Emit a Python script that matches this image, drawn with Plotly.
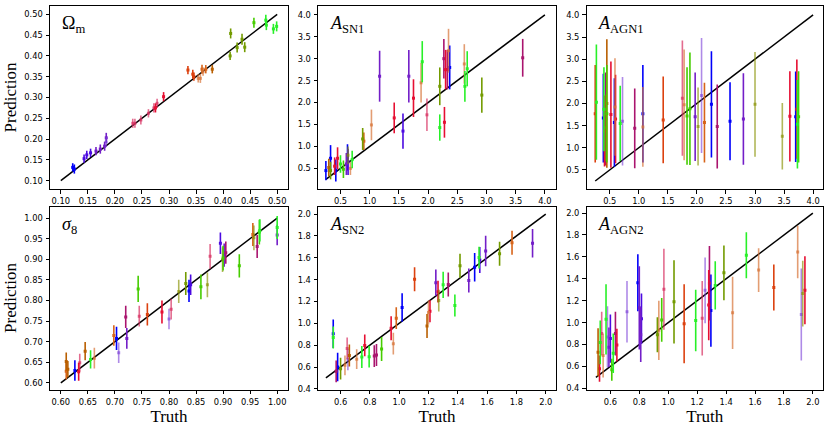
import plotly.graph_objects as go

# ---------------- data ----------------
om_truth = [0.122,0.125,0.143,0.148,0.155,0.165,0.173,0.181,0.184,0.184,0.233,0.237,0.248,0.262,0.272,0.275,0.278,0.290,0.335,0.344,0.346,0.354,0.358,0.361,0.363,0.368,0.380,0.413,0.414,0.426,0.435,0.440,0.457,0.479,0.480,0.493,0.499]
om_pred = [0.132,0.128,0.153,0.162,0.167,0.171,0.176,0.183,0.203,0.193,0.238,0.238,0.246,0.262,0.275,0.275,0.286,0.302,0.366,0.356,0.350,0.346,0.346,0.368,0.362,0.368,0.368,0.400,0.454,0.420,0.440,0.421,0.480,0.486,0.474,0.465,0.471]
om_err = [0.010,0.011,0.010,0.010,0.010,0.010,0.011,0.011,0.012,0.012,0.011,0.011,0.011,0.010,0.011,0.011,0.011,0.011,0.010,0.011,0.010,0.010,0.011,0.011,0.010,0.010,0.010,0.010,0.012,0.012,0.013,0.012,0.012,0.013,0.012,0.012,0.012]
om_col = ['B','B','BP','BP','BP','P','P','P','P','LP','PK','PK','PK','PK','PK','R','PK','R','RO','RO','RO','LO','LO','O','LO','O','BR','OL','OL','OL','OL','OL','G','LG','LG','LG','LG']

sn1_truth = [0.25,0.30,0.33,0.33,0.40,0.42,0.45,0.50,0.55,0.60,0.62,0.63,0.63,0.67,0.70,0.88,0.90,1.03,1.17,1.42,1.57,1.67,1.75,1.88,1.90,1.98,2.20,2.20,2.28,2.27,2.30,2.33,2.35,2.37,2.62,2.63,2.67,2.92,3.62]
sn1_pred = [0.45,0.52,0.73,0.45,0.55,0.45,0.73,0.60,0.48,0.60,0.75,0.65,0.80,0.50,0.70,1.17,1.12,1.49,2.60,1.65,1.35,2.60,2.10,2.45,2.93,1.72,1.43,2.37,1.55,3.00,2.75,2.75,3.18,2.80,2.88,2.37,2.77,2.17,3.02]
sn1_err = [0.22,0.20,0.30,0.20,0.20,0.25,0.25,0.20,0.20,0.25,0.30,0.30,0.20,0.15,0.20,0.25,0.20,0.35,0.58,0.35,0.40,0.60,0.43,0.45,0.47,0.37,0.30,0.43,0.35,0.45,0.45,0.45,0.50,0.50,0.45,0.35,0.40,0.40,0.43]
sn1_col = ['B','BR','B','OL','R','B','R','LG','G','P','B','BP','LOL','LO','LG','OL','O','LO','P','R','BP','P','R','LO','LG','PK','LG','OL','R','C','R','C','LO','B','LO','LG','LG','OL','C']

agn1_truth = [0.25,0.27,0.39,0.40,0.41,0.43,0.43,0.45,0.45,0.52,0.58,0.59,0.60,0.68,0.72,0.93,1.07,1.07,1.42,1.75,1.78,1.83,1.88,1.97,2.02,2.08,2.13,2.25,2.35,2.57,2.80,3.00,3.47,3.60,3.70,3.72,3.73,3.75]
agn1_pred = [1.77,2.03,1.67,1.87,1.38,1.45,1.65,2.00,1.77,1.75,1.57,1.92,1.65,1.55,1.60,1.44,1.77,1.47,1.63,2.12,1.97,1.72,1.88,1.70,1.48,2.18,1.57,1.98,1.48,1.60,1.65,1.98,1.26,1.71,1.70,1.87,1.53,1.70]
agn1_err = [1.10,1.30,1.00,0.95,0.80,0.75,1.05,1.45,1.10,1.20,1.00,1.10,1.00,0.85,1.00,0.90,1.10,0.90,0.98,1.30,1.25,1.10,1.27,1.00,0.88,1.30,0.90,1.20,0.95,0.88,1.03,1.18,0.75,1.02,1.02,1.12,1.00,1.03]
agn1_col = ['RO','LG','B','LG','R','LOL','C','BR','G','R','B','LO','R','LG','LP','C','B','LO','RO','PK','LO','G','G','P','LOL','LP','O','B','C','B','P','LOL','LOL','R','B','R','LG','G']

s8_truth = [0.610,0.610,0.613,0.626,0.633,0.635,0.645,0.655,0.662,0.698,0.703,0.707,0.722,0.720,0.743,0.745,0.760,0.787,0.800,0.804,0.818,0.831,0.837,0.840,0.859,0.871,0.876,0.895,0.899,0.900,0.902,0.905,0.930,0.955,0.957,0.963,0.967,0.968,1.000,1.000]
s8_pred = [0.652,0.628,0.633,0.630,0.627,0.649,0.677,0.657,0.660,0.715,0.708,0.673,0.708,0.760,0.828,0.762,0.766,0.772,0.755,0.779,0.822,0.841,0.823,0.838,0.833,0.838,0.907,0.939,0.899,0.903,0.910,0.916,0.884,0.960,0.952,0.931,0.966,0.970,0.977,0.959]
s8_err = [0.022,0.020,0.020,0.025,0.022,0.022,0.022,0.022,0.025,0.025,0.028,0.025,0.025,0.027,0.032,0.025,0.027,0.028,0.025,0.025,0.028,0.028,0.027,0.025,0.030,0.030,0.030,0.026,0.030,0.030,0.028,0.027,0.028,0.028,0.030,0.028,0.030,0.027,0.028,0.025]
s8_col = ['BR','O','BR','B','R','PK','BR','LG','LO','O','B','LP','P','C','G','PK','RO','R','LP','PK','LOL','OL','B','BP','G','LOL','PK','BP','LOL','G','P','C','G','O','LOL','C','G','LG','LG','P']

sn2_truth = [0.55,0.55,0.57,0.58,0.60,0.63,0.645,0.65,0.66,0.71,0.745,0.765,0.795,0.83,0.845,0.88,0.945,0.96,0.98,1.02,1.105,1.19,1.20,1.21,1.25,1.265,1.27,1.30,1.335,1.38,1.415,1.475,1.515,1.545,1.55,1.59,1.685,1.77,1.91]
sn2_pred = [0.905,0.870,0.560,0.600,0.585,0.615,0.770,0.670,0.705,0.672,0.692,0.798,0.695,0.700,0.710,0.765,0.955,0.814,1.047,1.145,1.403,0.976,1.099,1.111,1.372,1.290,1.209,1.353,1.355,1.163,1.528,1.393,1.513,1.602,1.580,1.663,1.638,1.739,1.733]
sn2_err = [0.13,0.10,0.10,0.13,0.10,0.09,0.10,0.10,0.10,0.09,0.10,0.10,0.10,0.10,0.10,0.11,0.11,0.10,0.10,0.13,0.11,0.11,0.11,0.10,0.12,0.10,0.10,0.12,0.11,0.10,0.11,0.11,0.13,0.10,0.12,0.14,0.11,0.11,0.13]
sn2_col = ['B','LG','C','B','OL','LO','PK','LP','BR','LO','LG','R','LG','C','C','G','R','LO','O','B','RO','BR','LO','R','P','R','LOL','LG','C','LG','OL','P','B','LG','BP','P','OL','O','P']

agn2_truth = [0.515,0.525,0.53,0.54,0.55,0.57,0.58,0.59,0.60,0.61,0.62,0.635,0.645,0.715,0.79,0.80,0.81,0.815,0.925,0.935,0.955,0.97,1.04,1.11,1.19,1.235,1.255,1.28,1.285,1.295,1.325,1.385,1.445,1.54,1.625,1.73,1.895,1.92,1.93,1.945]
agn2_pred = [0.73,0.58,0.82,0.90,0.70,1.03,0.87,0.775,0.855,0.57,0.72,0.90,0.795,1.10,1.365,1.135,0.89,1.035,0.89,0.93,1.025,1.305,1.19,0.99,1.02,1.04,1.295,1.16,1.36,1.11,1.34,1.455,1.09,1.615,1.48,1.32,1.645,1.075,1.265,1.295]
agn2_err = [0.22,0.12,0.20,0.20,0.20,0.32,0.28,0.18,0.22,0.10,0.18,0.20,0.15,0.28,0.26,0.38,0.25,0.23,0.16,0.27,0.20,0.37,0.38,0.36,0.28,0.34,0.30,0.32,0.34,0.33,0.22,0.25,0.33,0.21,0.20,0.21,0.24,0.42,0.30,0.31]
agn2_col = ['BR','R','LG','PK','LO','LG','LP','P','BP','G','LG','C','R','LP','B','P','P','BP','OL','LO','G','PK','OL','RO','LG','PK','LP','R','C','B','LG','OL','LO','LG','LO','RO','LO','LP','LOL','R']

diag_lo = [0.10, 0.25, 0.25, 0.60, 0.50, 0.50]
diag_hi = [0.50, 4.00, 4.00, 1.00, 2.00, 2.00]

titles = ['Ω<sub>m</sub>', '<i>A</i><sub>SN1</sub>', '<i>A</i><sub>AGN1</sub>',
          '<i>σ</i><sub>8</sub>', '<i>A</i><sub>SN2</sub>', '<i>A</i><sub>AGN2</sub>']

# ---------------- styling ----------------
palette = {
    'B': 'rgb(0,0,250)', 'BP': 'rgb(75,10,225)', 'P': 'rgb(115,30,200)',
    'LP': 'rgba(120,60,215,0.6)', 'C': 'rgb(170,20,110)', 'PK': 'rgba(215,45,95,0.7)',
    'R': 'rgb(230,15,50)', 'RO': 'rgb(220,65,15)', 'O': 'rgb(215,100,25)',
    'LO': 'rgba(215,115,55,0.7)', 'BR': 'rgb(185,95,0)', 'OL': 'rgb(115,155,0)',
    'LOL': 'rgba(135,145,0,0.65)', 'G': 'rgb(70,205,0)', 'LG': 'rgb(40,240,40)',
}

W, H = 830, 430
xcols = [(50, 288), (318, 556), (586.5, 823)]
yrows = [(6, 189), (206.5, 389.5)]

panels = [
    (om_truth, om_pred, om_err, om_col, [0.08, 0.52], [0.08, 0.52], 0.05, 0.05, '.2f', 0.10, 0.10),
    (sn1_truth, sn1_pred, sn1_err, sn1_col, [0.115, 4.19], [0.03, 4.2], 0.5, 0.5, '.1f', 0.5, 0.5),
    (agn1_truth, agn1_pred, agn1_err, agn1_col, [0.10, 4.17], [0.07, 4.2], 0.5, 0.5, '.1f', 0.5, 0.5),
    (s8_truth, s8_pred, s8_err, s8_col, [0.58, 1.02], [0.584, 1.028], 0.05, 0.05, '.2f', 0.60, 0.60),
    (sn2_truth, sn2_pred, sn2_err, sn2_col, [0.446, 2.07], [0.394, 2.07], 0.2, 0.2, '.1f', 0.6, 0.4),
    (agn2_truth, agn2_pred, agn2_err, agn2_col, [0.435, 2.07], [0.39, 2.06], 0.2, 0.2, '.1f', 0.6, 0.4),
]

fig = go.Figure()
layout = {}
for i, (tx, py, er, cl, xr, yr, dx, dy, fmt, x0, y0) in enumerate(panels):
    n = i + 1
    xa = 'x' if n == 1 else f'x{n}'
    ya = 'y' if n == 1 else f'y{n}'
    r, c = divmod(i, 3)
    fig.add_trace(go.Scatter(x=[diag_lo[i], diag_hi[i]], y=[diag_lo[i], diag_hi[i]], mode='lines',
                             line=dict(color='black', width=1.5), xaxis=xa, yaxis=ya, showlegend=False,
                             hoverinfo='skip'))
    for key in palette:
        idx = [k for k, v in enumerate(cl) if v == key]
        if not idx:
            continue
        fig.add_trace(go.Scatter(
            x=[tx[k] for k in idx], y=[py[k] for k in idx], mode='markers',
            marker=dict(symbol='square', size=3, color=palette[key], line=dict(width=0)),
            error_y=dict(type='data', array=[er[k] for k in idx], color=palette[key], thickness=1.6, width=0),
            xaxis=xa, yaxis=ya, showlegend=False))
    axfont = dict(family='DejaVu Sans', size=8.3, color='black')
    common = dict(showline=True, mirror=True, linecolor='black', linewidth=1, ticks='outside',
                  ticklen=3.5, tickwidth=0.8, tickcolor='black', showgrid=False, zeroline=False,
                  tickfont=axfont, automargin=False)
    xkey = 'xaxis' if n == 1 else f'xaxis{n}'
    ykey = 'yaxis' if n == 1 else f'yaxis{n}'
    layout[xkey] = dict(common, domain=[xcols[c][0] / W, xcols[c][1] / W], range=xr,
                        anchor=ya, tick0=x0, dtick=dx, tickformat=fmt, ticklabelstandoff=1)
    layout[ykey] = dict(common, domain=[1 - yrows[r][1] / H, 1 - yrows[r][0] / H], range=yr,
                        anchor=xa, tick0=y0, dtick=dy, tickformat=fmt, ticklabelstandoff=1)
    if r == 1:
        layout[xkey]['title'] = dict(text='Truth', font=dict(family='Liberation Serif', size=17, color='black'),
                                     standoff=1)
    if c == 0:
        layout[ykey]['title'] = dict(text='Prediction', font=dict(family='Liberation Serif', size=17, color='black'),
                                     standoff=3)
    fig.add_annotation(text=titles[i], xref=f'{xa} domain', yref=f'{ya} domain', x=0.04, y=0.97,
                       xanchor='left', yanchor='top', showarrow=False,
                       font=dict(family='Liberation Serif', size=18, color='black'))

fig.update_layout(width=W, height=H, margin=dict(l=0, r=0, t=0, b=0), plot_bgcolor='white',
                  paper_bgcolor='white', **layout)
# remove the default 8px page margin so the figure fills the 830x430 window exactly
fig.write_html('out.html', config={'displayModeBar': False},
               post_script="document.body.style.margin='0';document.body.style.overflow='hidden';")
